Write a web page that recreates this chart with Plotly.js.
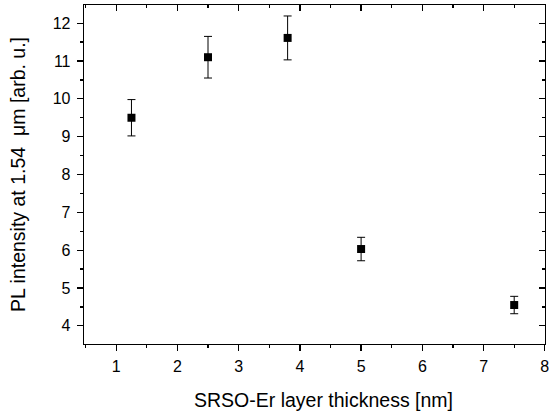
<!DOCTYPE html>
<html>
<head>
<meta charset="utf-8">
<script src="https://cdn.plot.ly/plotly-3.0.1.min.js"></script>
<style>html,body{margin:0;padding:0;background:#fff}#chart{width:549px;height:416px}</style>
</head>
<body>
<div id="chart"></div>
<script>
var thickness = [1.25, 2.5, 3.8, 5.0, 7.5];
var intensity = [9.5, 11.1, 11.61, 6.03, 4.55];
var errors = [0.48, 0.55, 0.58, 0.31, 0.23];
var xTickVals = [1, 2, 3, 4, 5, 6, 7, 8];
var yTickVals = [4, 5, 6, 7, 8, 9, 10, 11, 12];
var xMinorVals = [0.5, 1.5, 2.5, 3.5, 4.5, 5.5, 6.5, 7.5];
var yMinorVals = [3.5, 4.5, 5.5, 6.5, 7.5, 8.5, 9.5, 10.5, 11.5];
var xTitle = "SRSO-Er layer thickness [nm]";
var yTitle = "PL intensity at 1.54 \u00a0\u03bcm [arb. u.]";

var font = {family: "Liberation Sans, Arial, sans-serif", size: 16, color: "#000"};

var main = {
  x: thickness, y: intensity, type: "scatter", mode: "markers",
  marker: {symbol: "square", size: 8, color: "#000"},
  error_y: {type: "data", array: errors, visible: true, color: "#000", thickness: 1, width: 4},
  showlegend: false, hoverinfo: "x+y"
};
var ghost = {
  x: thickness, y: intensity, type: "scatter", mode: "markers",
  xaxis: "x2", yaxis: "y2", marker: {opacity: 0}, showlegend: false, hoverinfo: "skip"
};

var xr = [0.475, 8.003], yr = [3.52, 12.48];
function minor(vals, dir) {
  return {tickvals: vals, ticks: dir, ticklen: 3, tickwidth: 1.3, tickcolor: "#000", showgrid: false};
}
var layout = {
  width: 549, height: 416,
  margin: {l: 84, r: 4, t: 5, b: 72},
  paper_bgcolor: "#fff", plot_bgcolor: "#fff",
  font: font,
  xaxis: {
    range: xr, tickvals: xTickVals, showgrid: false, zeroline: false,
    showline: true, linecolor: "#000", linewidth: 1.3,
    ticks: "outside", ticklen: 6, tickwidth: 1.3, tickcolor: "#000",
    minor: minor(xMinorVals, "outside"),
    tickfont: {size: 16}, ticklabelstandoff: 1, ticklabeloverflow: "allow"
  },
  yaxis: {
    range: yr, tickvals: yTickVals, showgrid: false, zeroline: false,
    showline: true, linecolor: "#000", linewidth: 1.3,
    ticks: "outside", ticklen: 6, tickwidth: 1.3, tickcolor: "#000",
    minor: minor(yMinorVals, "outside"),
    tickfont: {size: 16}, ticklabelstandoff: 3,
    title: {text: yTitle, font: {size: 19.5}, standoff: 22}
  },
  xaxis2: {
    overlaying: "x", side: "top", anchor: "y2", range: xr, tickvals: xTickVals,
    showgrid: false, zeroline: false, showline: true, linecolor: "#000", linewidth: 1.3,
    ticks: "inside", ticklen: 6, tickwidth: 1.3, tickcolor: "#000", showticklabels: false,
    minor: minor(xMinorVals, "inside")
  },
  yaxis2: {
    overlaying: "y", side: "right", anchor: "x2", range: yr, tickvals: yTickVals,
    showgrid: false, zeroline: false, showline: true, linecolor: "#000", linewidth: 1.3,
    ticks: "inside", ticklen: 6, tickwidth: 1.3, tickcolor: "#000", showticklabels: false,
    minor: minor(yMinorVals, "inside")
  },
  annotations: [{
    text: xTitle, xref: "paper", yref: "paper", x: 0.5195, y: -0.165,
    xanchor: "center", yanchor: "middle", showarrow: false, font: {size: 19.5, color: "#000"}
  }]
};
Plotly.newPlot("chart", [main, ghost], layout, {displayModeBar: false, staticPlot: true});
</script>
</body>
</html>
